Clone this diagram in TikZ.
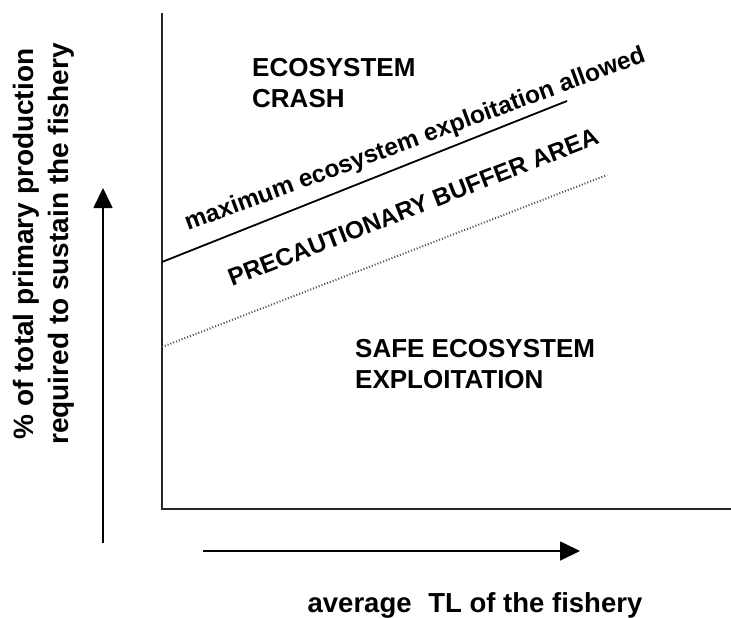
\documentclass[tikz,border=0pt]{standalone}
\usepackage{fontspec}
\setmainfont{Liberation Sans}
\usetikzlibrary{arrows.meta,positioning}

\begin{document}
\begin{tikzpicture}[x=1pt, y=-1pt]
    % Define styles
    \tikzstyle{region} = [font=\bfseries\fontsize{26}{31}\selectfont, align=left, anchor=north west, inner sep=0pt]
    \tikzstyle{band} = [font=\bfseries\fontsize{24.5}{27}\selectfont, anchor=base west, inner sep=0pt]
    \tikzstyle{axislabel} = [font=\bfseries\fontsize{28}{35}\selectfont, align=center, inner sep=0pt]
    \tikzstyle{axis} = [line width=2.2pt, black!85]
    \tikzstyle{arrow} = [line width=1.8pt, -{Triangle[length=20pt, width=19pt]}]

    \useasboundingbox (0,0) rectangle (731,618);

    % Axes
    \coordinate (top) at (162,13);
    \coordinate (origin) at (162,509);
    \coordinate (right) at (731,509);
    \draw[axis] (top) -- (origin) -- (right);

    % Limit lines
    \coordinate (maxstart) at (162,262);
    \coordinate (maxend) at (567,101);
    \draw[line width=1.8pt] (maxstart) -- (maxend);
    \coordinate (bufstart) at (162,347);
    \coordinate (bufend) at (607,175);
    \draw[black!70, line width=2pt, dash pattern=on 1pt off 2pt] (bufstart) -- (bufend);

    % Regions
    \node[region] (crash) at (252,58) {ECOSYSTEM\\CRASH};
    \node[band, rotate=20.3] (maxlabel) at (188,231) {maximum ecosystem exploitation allowed};
    \node[band, rotate=21.3] (buffer) at (232,287) {PRECAUTIONARY BUFFER AREA};
    \node[region] (safe) at (355,339) {SAFE ECOSYSTEM\\EXPLOITATION};

    % Axis arrows
    \coordinate (ylow) at (103,543);
    \coordinate (yhigh) at (103,188);
    \draw[arrow] (ylow) -- (yhigh);
    \coordinate (xlow) at (203,551);
    \coordinate (xhigh) at (580,551);
    \draw[arrow] (xlow) -- (xhigh);

    % Axis labels
    \node[axislabel, rotate=90] (ylabel) at (44,244) {\% of total primary production\\required to sustain the fishery};
    \node[axislabel, anchor=base, font=\bfseries\fontsize{27.5}{33}\selectfont] (xlabel) at (475,612) {average\,\, TL of the fishery};
\end{tikzpicture}
\end{document}
